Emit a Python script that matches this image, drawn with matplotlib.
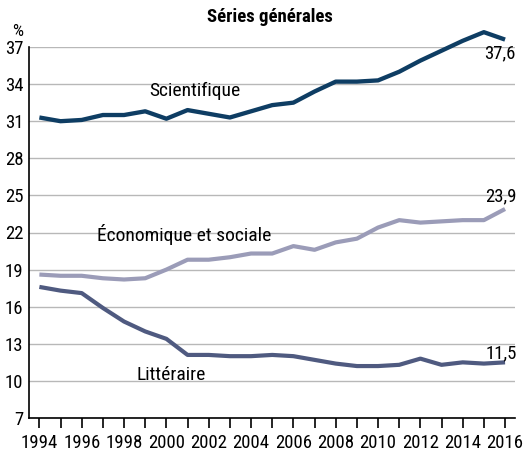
import numpy as np
import matplotlib
matplotlib.use("Agg")
import matplotlib.pyplot as plt

# =========================================================
# DONNÉES
# =========================================================
years = list(range(1994, 2017))

scientifique = [31.3, 31.0, 31.1, 31.5, 31.5, 31.8, 31.2, 31.9, 31.6, 31.3, 31.8, 32.3,
                32.5, 33.4, 34.2, 34.2, 34.3, 35.0, 35.9, 36.7, 37.5, 38.2, 37.6]
economique = [18.6, 18.5, 18.5, 18.3, 18.2, 18.3, 19.0, 19.8, 19.8, 20.0, 20.3, 20.3,
              20.9, 20.6, 21.2, 21.5, 22.4, 23.0, 22.8, 22.9, 23.0, 23.0, 23.9]
litteraire = [17.6, 17.3, 17.1, 15.9, 14.8, 14.0, 13.4, 12.1, 12.1, 12.0, 12.0, 12.1,
              12.0, 11.7, 11.4, 11.2, 11.2, 11.3, 11.8, 11.3, 11.5, 11.4, 11.5]

yticks = [7, 10, 13, 16, 19, 22, 25, 28, 31, 34, 37]
xlabels_years = list(range(1994, 2017, 2))

c_sci = "#0e3d63"
c_eco = "#9b9cb8"
c_lit = "#4f5a80"

plt.rcParams['font.family'] = ['Roboto Condensed', 'DejaVu Sans']

# =========================================================
# FIGURE
# =========================================================
fig = plt.figure(figsize=(5.29, 4.57), dpi=100)
ax = fig.add_axes([29 / 529, 1 - 418 / 457, (515 - 29) / 529, (418 - 47) / 457])

ax.plot(years, scientifique, color=c_sci, lw=3.1, clip_on=False, solid_capstyle='butt', zorder=3)
ax.plot(years, economique, color=c_eco, lw=3.0, clip_on=False, solid_capstyle='butt', zorder=3)
ax.plot(years, litteraire, color=c_lit, lw=3.0, clip_on=False, solid_capstyle='butt', zorder=3)

ax.set_xlim(1993.51, 2016.47)
ax.set_ylim(7, 37)

ax.set_yticks(yticks)
ax.set_yticklabels([str(v) for v in yticks], fontsize=13.5)
ax.yaxis.grid(True, color="#b8b8b8", lw=1.0)
ax.set_axisbelow(True)
ax.tick_params(axis='y', length=0, pad=4)

ax.set_xticks(years)
ax.set_xticklabels([str(y) if y in xlabels_years else "" for y in years], fontsize=13.5)
ax.tick_params(axis='x', direction='out', length=7.5, width=1.2, pad=4)

for s in ['top', 'right']:
    ax.spines[s].set_visible(False)
ax.spines['left'].set_linewidth(1.2)
ax.spines['bottom'].set_linewidth(1.2)

# Étiquettes
ax.text(1999.2, 33.47, "Scientifique", fontsize=14, va='center', ha='left')
ax.text(1996.7, 21.8, "Économique et sociale", fontsize=14, va='center', ha='left')
ax.text(1998.6, 10.48, "Littéraire", fontsize=14, va='center', ha='left')

ax.text(2015.75, 36.5, "37,6", fontsize=13.5, va='center', ha='center')
ax.text(2015.8, 24.9, "23,9", fontsize=13.5, va='center', ha='center')
ax.text(2015.8, 12.2, "11,5", fontsize=13.5, va='center', ha='center')

fig.text(270 / 529, 1 - 17 / 457, "Séries générales", fontsize=13.5, fontweight='bold',
         ha='center', va='center')
fig.text(18 / 529, 1 - 32 / 457, "%", fontsize=12.5, ha='center', va='center')

fig.savefig("out.png", dpi=100)
